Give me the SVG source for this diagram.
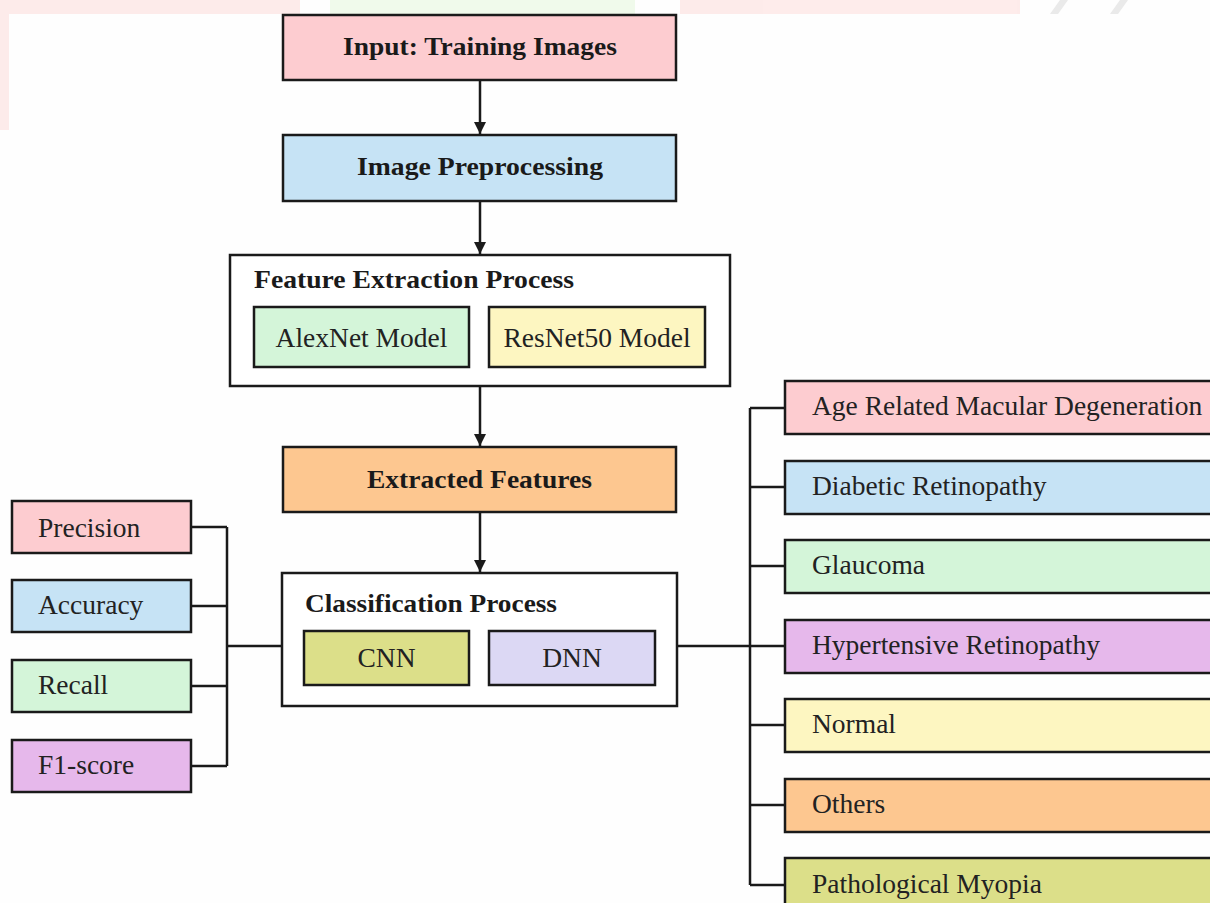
<svg xmlns="http://www.w3.org/2000/svg" width="1210" height="903" viewBox="0 0 1210 903">
<style>
.box{stroke:#1a1a1a;stroke-width:2.5}
.cont{fill:#ffffff;stroke:#1a1a1a;stroke-width:2.5}
.t{font-family:"Liberation Serif","Times New Roman",serif;font-size:27.5px;fill:#222}
.b{font-family:"Liberation Serif","Times New Roman",serif;font-size:25px;font-weight:bold;fill:#1a1a1a}
.ln{fill:none;stroke:#1a1a1a;stroke-width:2.5}
.pink{fill:#fdccd0}.blue{fill:#c6e3f5}.green{fill:#d4f5d9}.yellow{fill:#fdf6c1}.orange{fill:#fdc790}.purple{fill:#e6b8eb}.olive{fill:#dcdf89}.lav{fill:#dcd8f4}
</style>
<defs>
<marker id="ah" viewBox="0 0 10 10" refX="10" refY="5" markerWidth="5" markerHeight="5" orient="auto" markerUnits="strokeWidth">
<path d="M0,0 L10,5 L0,10 z" fill="#1a1a1a"/>
</marker>
</defs>
<rect width="1210" height="903" fill="#fefefe"/>
<g id="watermark" opacity="0.6">
<rect x="0" y="0" width="300" height="14" fill="#fde0de"/>
<rect x="0" y="0" width="9" height="130" fill="#fde0de"/>
<rect x="330" y="0" width="305" height="14" fill="#e8f8e0"/>
<rect x="680" y="0" width="340" height="14" fill="#fde0de"/>
<path d="M1050,14 L1060,0 L1068,0 L1058,14 z M1110,14 L1120,0 L1128,0 L1118,14 z" fill="#dddddd"/>
</g>
<g id="connectors">
<line class="ln" x1="480" y1="81" x2="480" y2="134" marker-end="url(#ah)"/>
<line class="ln" x1="480" y1="202" x2="480" y2="254" marker-end="url(#ah)"/>
<line class="ln" x1="480" y1="387" x2="480" y2="446" marker-end="url(#ah)"/>
<line class="ln" x1="480" y1="513" x2="480" y2="572" marker-end="url(#ah)"/>
<path class="ln" d="M191,527 H227 M191,606 H227 M191,686 H227 M191,766 H227 M227,527 V766 M227,646 H282"/>
<path class="ln" d="M677,646 H750 M750,408 V885 M750,408 H785 M750,487 H785 M750,566 H785 M750,646 H785 M750,725 H785 M750,805 H785 M750,885 H785"/>
</g>
<g id="input"><rect class="box pink" x="283" y="15" width="393" height="65"/><text class="b" x="343" y="55" textLength="274" lengthAdjust="spacingAndGlyphs">Input: Training Images</text></g>
<g id="preprocessing"><rect class="box blue" x="283" y="135" width="393" height="66"/><text class="b" x="357" y="175" textLength="246" lengthAdjust="spacingAndGlyphs">Image Preprocessing</text></g>
<g id="feature-extraction">
<rect class="cont" x="230" y="255" width="500" height="131"/>
<text class="b" x="254" y="288" textLength="320" lengthAdjust="spacingAndGlyphs">Feature Extraction Process</text>
<g id="alexnet"><rect class="box green" x="254" y="307" width="215" height="60"/><text class="t" x="361.5" y="347" text-anchor="middle">AlexNet Model</text></g>
<g id="resnet50"><rect class="box yellow" x="489" y="307" width="216" height="60"/><text class="t" x="597" y="347" text-anchor="middle">ResNet50 Model</text></g>
</g>
<g id="extracted"><rect class="box orange" x="283" y="447" width="393" height="65"/><text class="b" x="367" y="488" textLength="225" lengthAdjust="spacingAndGlyphs">Extracted Features</text></g>
<g id="classification">
<rect class="cont" x="282" y="573" width="395" height="133"/>
<text class="b" x="305" y="612" textLength="252" lengthAdjust="spacingAndGlyphs">Classification Process</text>
<g id="cnn"><rect class="box olive" x="304" y="631" width="165" height="54"/><text class="t" x="386.5" y="667" text-anchor="middle">CNN</text></g>
<g id="dnn"><rect class="box lav" x="489" y="631" width="166" height="54"/><text class="t" x="572" y="667" text-anchor="middle">DNN</text></g>
</g>
<g id="precision"><rect class="box pink" x="12" y="501" width="179" height="52"/><text class="t" x="38" y="537">Precision</text></g>
<g id="accuracy"><rect class="box blue" x="12" y="580" width="179" height="52"/><text class="t" x="38" y="614">Accuracy</text></g>
<g id="recall"><rect class="box green" x="12" y="660" width="179" height="52"/><text class="t" x="38" y="694">Recall</text></g>
<g id="f1"><rect class="box purple" x="12" y="740" width="179" height="52"/><text class="t" x="38" y="774">F1-score</text></g>
<g id="amd"><rect class="box pink" x="785" y="381" width="440" height="53"/><text class="t" x="812" y="415">Age Related Macular Degeneration</text></g>
<g id="dr"><rect class="box blue" x="785" y="461" width="440" height="53"/><text class="t" x="812" y="495">Diabetic Retinopathy</text></g>
<g id="glaucoma"><rect class="box green" x="785" y="540" width="440" height="53"/><text class="t" x="812" y="574">Glaucoma</text></g>
<g id="hr"><rect class="box purple" x="785" y="620" width="440" height="53"/><text class="t" x="812" y="654">Hypertensive Retinopathy</text></g>
<g id="normal"><rect class="box yellow" x="785" y="699" width="440" height="53"/><text class="t" x="812" y="733">Normal</text></g>
<g id="others"><rect class="box orange" x="785" y="779" width="440" height="53"/><text class="t" x="812" y="813">Others</text></g>
<g id="myopia"><rect class="box olive" x="785" y="858" width="440" height="60"/><text class="t" x="812" y="893">Pathological Myopia</text></g>
</svg>
